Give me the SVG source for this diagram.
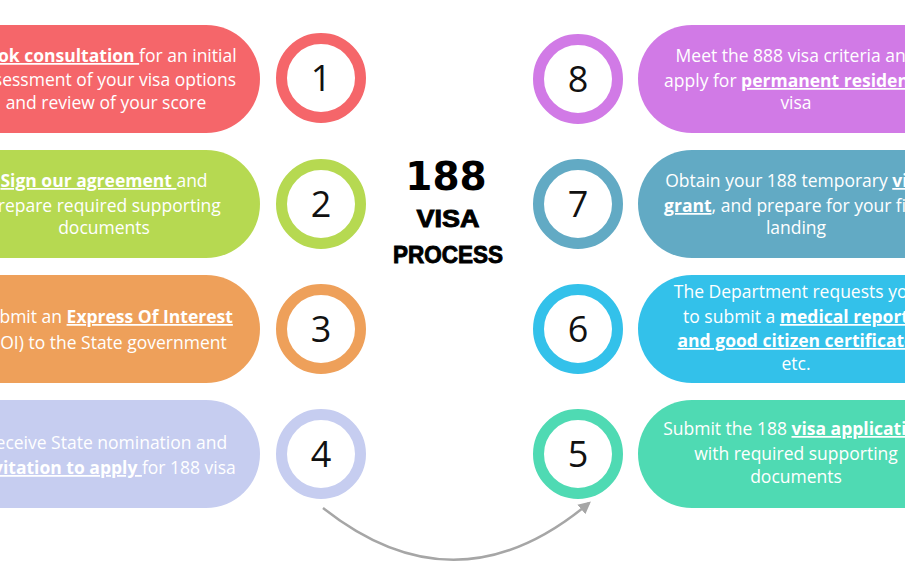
<svg xmlns="http://www.w3.org/2000/svg" width="905" height="576" viewBox="0 0 905 576">
<defs>
<style>
.t{font-family:"Open Sans","Liberation Sans",sans-serif;font-size:17.5px;fill:#ffffff;text-anchor:middle}
.b{font-weight:bold;text-decoration:underline}
.ring{fill:#ffffff;stroke-width:11}
.num{font-family:"Open Sans","DejaVu Sans",sans-serif;font-size:36px;fill:#111111;text-anchor:middle}
.title{font-family:"DejaVu Sans","Liberation Sans",sans-serif;font-weight:bold;fill:#000000;text-anchor:middle}
.sub{font-family:"Liberation Sans Narrow","Liberation Sans",sans-serif;font-weight:bold;font-size:24px;fill:#000000;stroke:#000000;stroke-width:0.9;text-anchor:middle}
.conn{fill:none;stroke:#a6a6a6;stroke-width:2.5}
</style>
<marker id="ah" viewBox="0 0 10 10" refX="8" refY="5" markerWidth="5" markerHeight="5" orient="auto" markerUnits="strokeWidth">
<path d="M0,0 L10,5 L0,10 z" fill="#a6a6a6"/>
</marker>
</defs>
<rect width="905" height="576" fill="#ffffff"/>

<g id="title">
<text class="title" x="446" y="190" font-size="39">188</text>
<text class="sub" x="448" y="227" textLength="63" lengthAdjust="spacingAndGlyphs">VISA</text>
<text class="sub" x="448" y="263" textLength="110" lengthAdjust="spacingAndGlyphs">PROCESS</text>
</g>

<g id="step1">
<rect x="-120" y="25" width="380" height="108" rx="54" fill="#f5666a"/>
<circle class="ring" cx="321" cy="78" r="39.5" stroke="#f5666a"/>
<text class="num" x="321" y="91">1</text>
<text class="t" x="106" y="62"><tspan class="b">Book consultation </tspan>for an initial</text>
<text class="t" x="106" y="86">assessment of your visa options</text>
<text class="t" x="106" y="109">and review of your score</text>
</g>

<g id="step2">
<rect x="-120" y="150" width="380" height="108" rx="54" fill="#b6d951"/>
<circle class="ring" cx="321" cy="204" r="39.5" stroke="#b6d951"/>
<text class="num" x="321" y="217">2</text>
<text class="t" x="104" y="187"><tspan class="b">Sign our agreement </tspan>and</text>
<text class="t" x="104" y="212">Prepare required supporting</text>
<text class="t" x="104" y="234">documents</text>
</g>

<g id="step3">
<rect x="-120" y="275" width="380" height="108" rx="54" fill="#eea05a"/>
<circle class="ring" cx="321" cy="329" r="39.5" stroke="#eea05a"/>
<text class="num" x="321" y="342">3</text>
<text class="t" x="106" y="323">Submit an <tspan class="b">Express Of Interest</tspan></text>
<text class="t" x="106" y="349">(EOI) to the State government</text>
</g>

<g id="step4">
<rect x="-120" y="400" width="380" height="108" rx="54" fill="#c6cdf0"/>
<circle class="ring" cx="321" cy="454" r="39.5" stroke="#c6cdf0"/>
<text class="num" x="321" y="467">4</text>
<text class="t" x="106" y="449">Receive State nomination and</text>
<text class="t" x="106" y="474"><tspan class="b">invitation to apply </tspan>for 188 visa</text>
</g>

<g id="step8">
<rect x="638" y="25" width="380" height="108" rx="54" fill="#d17ae6"/>
<circle class="ring" cx="578" cy="79" r="39.5" stroke="#d17ae6"/>
<text class="num" x="578" y="92">8</text>
<text class="t" x="796" y="62">Meet the 888 visa criteria and</text>
<text class="t" x="796" y="87">apply for <tspan class="b">permanent residency</tspan></text>
<text class="t" x="796" y="109">visa</text>
</g>

<g id="step7">
<rect x="638" y="150" width="380" height="108" rx="54" fill="#62aac4"/>
<circle class="ring" cx="578" cy="204" r="39.5" stroke="#62aac4"/>
<text class="num" x="578" y="217">7</text>
<text class="t" x="796" y="187">Obtain your 188 temporary <tspan class="b">visa</tspan></text>
<text class="t" x="796" y="212"><tspan class="b">grant</tspan>, and prepare for your first</text>
<text class="t" x="796" y="234">landing</text>
</g>

<g id="step6">
<rect x="638" y="275" width="380" height="108" rx="54" fill="#33c1ea"/>
<circle class="ring" cx="578" cy="329" r="39.5" stroke="#33c1ea"/>
<text class="num" x="578" y="342">6</text>
<text class="t" x="796" y="298">The Department requests you</text>
<text class="t" x="796" y="323">to submit a <tspan class="b">medical report</tspan></text>
<text class="t" x="796" y="347"><tspan class="b">and good citizen certificate</tspan></text>
<text class="t" x="796" y="370">etc.</text>
</g>

<g id="step5">
<rect x="638" y="400" width="380" height="108" rx="54" fill="#4fdab3"/>
<circle class="ring" cx="578" cy="454" r="39.5" stroke="#4fdab3"/>
<text class="num" x="578" y="467">5</text>
<text class="t" x="796" y="435">Submit the 188 <tspan class="b">visa application</tspan></text>
<text class="t" x="796" y="460">with required supporting</text>
<text class="t" x="796" y="483">documents</text>
</g>

<g id="connectors">
<path class="conn" d="M323,508 Q457,614 589,503" marker-end="url(#ah)"/>
</g>
</svg>
